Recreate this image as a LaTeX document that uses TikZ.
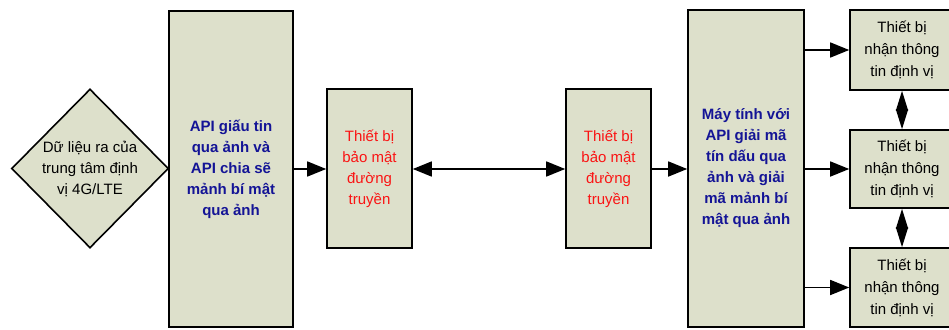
\documentclass[tikz,border=0pt]{standalone}
\usepackage{fontspec}
\setmainfont{Liberation Sans}
\usetikzlibrary{arrows.meta,shapes.geometric}
\definecolor{boxfill}{RGB}{221,224,203}
\definecolor{bluetxt}{RGB}{20,20,150}
\definecolor{redtxt}{RGB}{250,20,20}
\begin{document}
\begin{tikzpicture}[x=1pt,y=-1pt,
  blk/.style={draw=black,line width=1.6pt,fill=boxfill,inner sep=0pt,align=center,
    font=\fontsize{15}{21}\selectfont},
  conn/.style={line width=1.6pt,-{Triangle[length=19pt,width=15pt]}},
  dconn/.style={line width=1.6pt,{Triangle[length=19pt,width=15pt]}-{Triangle[length=19pt,width=15pt]}},
  vconn/.style={line width=1.6pt,{Triangle[length=20pt,width=12pt]}-{Triangle[length=20pt,width=12pt]}}]
\useasboundingbox (0,0) rectangle (949,329);
\clip (0,0) rectangle (949,329);
\fill[white] (0,0) rectangle (949,329);
% diamond
\node[blk,diamond,minimum width=157pt,minimum height=159pt,aspect=1] (src) at (90,168.5)
  {Dữ liệu ra của\\trung tâm định\\vị 4G/LTE};
% API box
\node[blk,minimum width=124pt,minimum height=316pt,text=bluetxt,font=\fontsize{15}{21}\selectfont\bfseries] (api) at (231,169)
  {API giấu tin\\qua ảnh và\\API chia sẽ\\mảnh bí mật\\qua ảnh};
\node[blk,minimum width=85pt,minimum height=159pt,text=redtxt] (sec1) at (369.5,168.5)
  {Thiết bị\\bảo mật\\đường\\truyền};
\node[blk,minimum width=85pt,minimum height=159pt,text=redtxt] (sec2) at (608.5,168.5)
  {Thiết bị\\bảo mật\\đường\\truyền};
\node[blk,minimum width=116pt,minimum height=317pt,text=bluetxt,font=\fontsize{15}{21}\selectfont\bfseries] (pc) at (746,168.5)
  {Máy tính với\\API giải mã\\tín dấu qua\\ảnh và giải\\mã mảnh bí\\mật qua ảnh};
\node[blk,minimum width=104pt,minimum height=80pt,font=\fontsize{15}{22}\selectfont] (r1) at (902,50)
  {Thiết bị\\nhận thông\\tin định vị};
\node[blk,minimum width=104pt,minimum height=78pt,font=\fontsize{15}{22}\selectfont] (r2) at (902,169)
  {Thiết bị\\nhận thông\\tin định vị};
\node[blk,minimum width=104pt,minimum height=79pt,font=\fontsize{15}{22}\selectfont] (r3) at (902,287.5)
  {Thiết bị\\nhận thông\\tin định vị};
% connectors
\draw[conn] (api.east |- 0,169) -- (sec1.west |- 0,169);
\draw[dconn] (sec1.east |- 0,169) -- (sec2.west |- 0,169);
\draw[conn] (sec2.east |- 0,169) -- (pc.west |- 0,169);
\draw[conn] (pc.east |- r1.west) -- (r1.west);
\draw[conn] (pc.east |- r2.west) -- (r2.west);
\draw[conn] (pc.east |- r3.west) -- (r3.west);
\draw[vconn] (r1.south) -- (r2.north);
\draw[vconn] (r2.south) -- (r3.north);
\end{tikzpicture}
\end{document}
